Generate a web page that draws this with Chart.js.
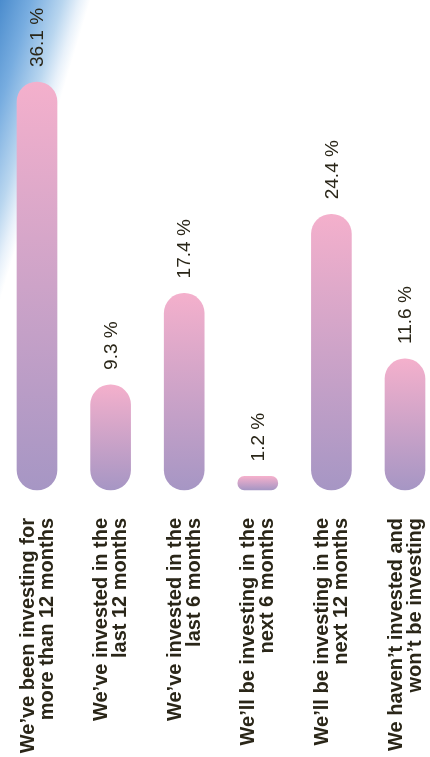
<!DOCTYPE html>
<html>
<head>
<meta charset="utf-8">
<script src="https://cdn.jsdelivr.net/npm/chart.js@4"></script>
<style>
  html, body { margin: 0; padding: 0; background: #fff; }
  #wrap { width: 430px; height: 757px; position: relative; }
</style>
</head>
<body>
<div id="wrap"><canvas id="chart"></canvas></div>
<script>
// ── Investment timing survey: share of respondents ──
const categories = [
  ['We\u2019ve been investing for', 'more than 12 months'],
  ['We\u2019ve invested in the', 'last 12 months'],
  ['We\u2019ve invested in the', 'last 6 months'],
  ['We\u2019ll be investing in the', 'next 6 months'],
  ['We\u2019ll be investing in the', 'next 12 months'],
  ['We haven\u2019t invested and', 'won\u2019t be investing'],
];
const shares = [36.1, 9.3, 17.4, 1.2, 24.4, 11.6];
const valueLabels = ['36.1 %', '9.3 %', '17.4 %', '1.2 %', '24.4 %', '11.6 %'];

const INK = '#2a2618';
const FONT = '"Liberation Sans", Arial, Helvetica, sans-serif';

// pink at the top of each bar, lavender at its foot
function barGradient(c) {
  const chart = c.chart;
  if (!chart.chartArea || c.type !== 'data') return '#cfa4c8';
  const y = chart.scales.y;
  const top = y.getPixelForValue(shares[c.dataIndex]);
  const bottom = y.getPixelForValue(0);
  const g = chart.ctx.createLinearGradient(0, top, 0, bottom);
  g.addColorStop(0, '#f4b0cc');
  g.addColorStop(1, '#a696c4');
  return g;
}

// blue wash in the top-left corner
const cornerGlow = {
  id: 'cornerGlow',
  beforeDraw(chart) {
    const { ctx, width, height } = chart;
    const g = ctx.createLinearGradient(0, 0, 83, 25);
    g.addColorStop(0, '#4b8ccd');
    g.addColorStop(0.35, '#78ade0');
    g.addColorStop(0.7, '#b9d6ef');
    g.addColorStop(0.88, '#e8f1fa');
    g.addColorStop(1, '#ffffff');
    ctx.save();
    ctx.fillStyle = g;
    ctx.fillRect(0, 0, width, height);
    ctx.restore();
  },
};

const valueLabelPlugin = {
  id: 'valueLabels',
  afterDatasetsDraw(chart) {
    const { ctx } = chart;
    const meta = chart.getDatasetMeta(0);
    ctx.save();
    ctx.font = '19px ' + FONT;
    ctx.fillStyle = INK;
    ctx.textAlign = 'left';
    ctx.textBaseline = 'middle';
    meta.data.forEach((bar, i) => {
      ctx.save();
      ctx.translate(bar.x + 1, bar.y - 15);
      ctx.rotate(-Math.PI / 2);
      ctx.fillText(valueLabels[i], 0, 0);
      ctx.restore();
    });
    ctx.restore();
  },
};

new Chart(document.getElementById('chart'), {
  type: 'bar',
  data: {
    labels: categories,
    datasets: [{
      data: shares,
      backgroundColor: barGradient,
      borderRadius: 20,
      borderSkipped: false,
      barThickness: 40,
      clip: false,
    }],
  },
  options: {
    responsive: true,
    maintainAspectRatio: false,
    animation: false,
    layout: { padding: { top: 38, left: 37, right: 25, bottom: 0 } },
    plugins: { legend: { display: false }, tooltip: { enabled: false } },
    scales: {
      x: {
        offset: false,
        grid: { display: false, drawTicks: false },
        border: { display: false },
        ticks: {
          autoSkip: false,
          minRotation: 90,
          maxRotation: 90,
          padding: 28,
          labelOffset: -9,
          color: INK,
          font: { family: FONT, size: 20, weight: 'bold', lineHeight: 0.95 },
        },
        afterFit(scale) {
          // fixed band under the bars; labels are allowed to sit near the edges
          scale.height = 267;
          scale.paddingLeft = 0;
          scale.paddingRight = 0;
        },
      },
      y: { display: false, min: 0, max: 40 },
    },
  },
  plugins: [cornerGlow, valueLabelPlugin],
});
</script>
</body>
</html>
